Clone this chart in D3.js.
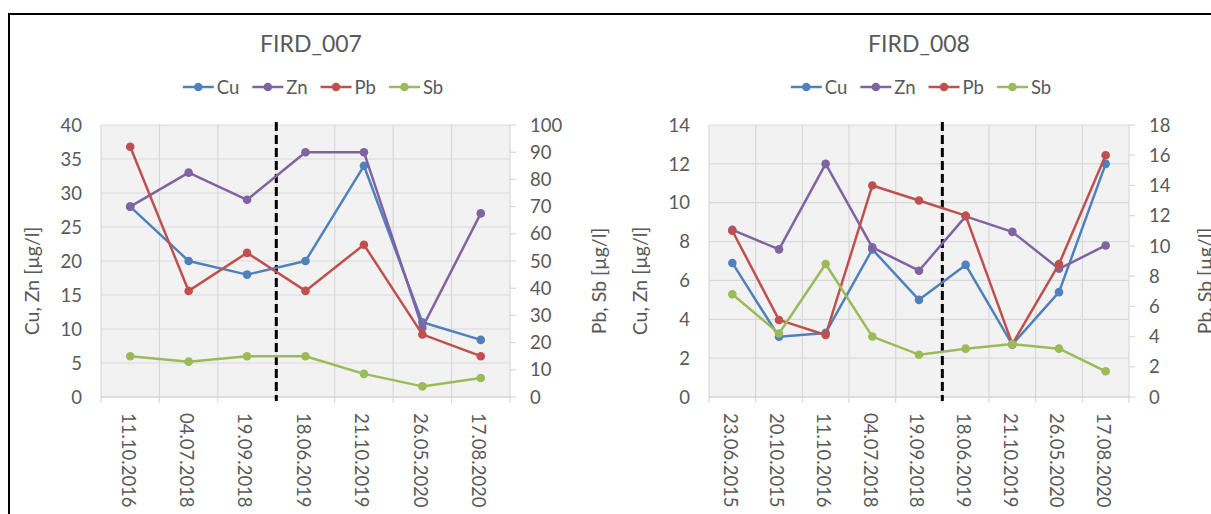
<!DOCTYPE html>
<html>
<head>
<meta charset="utf-8">
<script src="https://cdn.jsdelivr.net/npm/d3@7/dist/d3.min.js"></script>
<style>
  html, body { margin: 0; padding: 0; background: #fff; }
  svg { display: block; }
  text { font-family: Lato, "Open Sans", sans-serif; fill: #595959; }
</style>
</head>
<body>
<svg id="chart" width="1211" height="514"></svg>
<script>
// ---------- DATA ----------
const seriesNames = ["Cu", "Zn", "Pb", "Sb"];
const seriesColors = ["#4F81BD", "#8064A2", "#C0504D", "#9BBB59"];

// FIRD_007
const title1 = "FIRD_007";
const dates1 = ["11.10.2016", "04.07.2018", "19.09.2018", "18.06.2019", "21.10.2019", "26.05.2020", "17.08.2020"];
const cu1 = [28, 20, 18, 20, 34, 11, 8.4];
const zn1 = [28, 33, 29, 36, 36, 10.2, 27];
const pb1 = [92, 39, 53, 39, 56, 23, 15];
const sb1 = [15, 13, 15, 15, 8.5, 3.9, 7];
const leftTicks1 = [0, 5, 10, 15, 20, 25, 30, 35, 40];
const rightTicks1 = [0, 10, 20, 30, 40, 50, 60, 70, 80, 90, 100];
const divider1 = 3; // dashed line before this category index

// FIRD_008
const title2 = "FIRD_008";
const dates2 = ["23.06.2015", "20.10.2015", "11.10.2016", "04.07.2018", "19.09.2018", "18.06.2019", "21.10.2019", "26.05.2020", "17.08.2020"];
const cu2 = [6.9, 3.1, 3.3, 7.6, 5.0, 6.8, 2.7, 5.4, 12.0];
const zn2 = [8.6, 7.6, 12.0, 7.7, 6.5, 9.3, 8.5, 6.6, 7.8];
const pb2 = [11.0, 5.1, 4.1, 14.0, 13.0, 12.0, 3.5, 8.8, 16.0];
const sb2 = [6.8, 4.2, 8.8, 4.0, 2.8, 3.2, 3.5, 3.2, 1.7];
const leftTicks2 = [0, 2, 4, 6, 8, 10, 12, 14];
const rightTicks2 = [0, 2, 4, 6, 8, 10, 12, 14, 16, 18];
const divider2 = 5;

const leftAxisTitle = "Cu, Zn [µg/l]";
const rightAxisTitle = "Pb, Sb [µg/l]";

// ---------- DRAW ----------
const svg = d3.select("#chart");

// outer frame
svg.append("rect").attr("x", 9).attr("y", 14).attr("width", 1400).attr("height", 700)
  .attr("fill", "#fff").attr("stroke", "#000").attr("stroke-width", 2);

function drawChart(cfg) {
  const g = svg.append("g");
  const { left, right, top, bottom } = cfg;
  const x = d3.scaleBand().domain(cfg.dates).range([left, right]).padding(0);
  const yL = d3.scaleLinear().domain([0, d3.max(cfg.leftTicks)]).range([bottom, top]);
  const yR = d3.scaleLinear().domain([0, d3.max(cfg.rightTicks)]).range([bottom, top]);
  const bw = x.bandwidth();

  // plot area
  g.append("rect").attr("x", left).attr("y", top).attr("width", right - left).attr("height", bottom - top)
    .attr("fill", "#F2F2F2");

  // horizontal gridlines
  g.selectAll(".hg").data(cfg.leftTicks).join("line")
    .attr("x1", left).attr("x2", right)
    .attr("y1", d => yL(d)).attr("y2", d => yL(d))
    .attr("stroke", "#D9D9D9").attr("stroke-width", 1.2);

  // vertical gridlines at category boundaries
  const bounds = cfg.dates.map(d => x(d)).concat([right]);
  g.selectAll(".vg").data(bounds).join("line")
    .attr("x1", d => d).attr("x2", d => d)
    .attr("y1", top).attr("y2", bottom + 6)
    .attr("stroke", "#D9D9D9").attr("stroke-width", 1.2);

  // right axis ticks (outside)
  g.selectAll(".rt").data(cfg.rightTicks).join("line")
    .attr("x1", right).attr("x2", right + 6)
    .attr("y1", d => yR(d)).attr("y2", d => yR(d))
    .attr("stroke", "#D9D9D9").attr("stroke-width", 1.2);

  // x axis line
  g.append("line").attr("x1", left).attr("x2", right).attr("y1", bottom).attr("y2", bottom)
    .attr("stroke", "#D0D0D0").attr("stroke-width", 1.2);

  // left tick labels
  g.selectAll(".lt").data(cfg.leftTicks).join("text")
    .attr("x", left - 19).attr("y", d => yL(d)).attr("dy", "0.36em")
    .attr("text-anchor", "end").attr("font-size", 18.5).text(d => d);

  // right tick labels
  g.selectAll(".rtl").data(cfg.rightTicks).join("text")
    .attr("x", right + 20).attr("y", d => yR(d)).attr("dy", "0.36em")
    .attr("text-anchor", "start").attr("font-size", 18.5).text(d => d);

  // x labels, rotated
  g.selectAll(".xl").data(cfg.dates).join("text")
    .attr("transform", d => `translate(${x(d) + bw / 2 - 2},${bottom + 16}) rotate(90)`)
    .attr("dy", "0.36em").attr("text-anchor", "start").attr("font-size", 18.5).text(d => d);

  // axis titles
  g.append("text").attr("transform", `translate(${cfg.leftTitleX},281) rotate(-90)`)
    .attr("text-anchor", "middle").attr("dy", "0.36em").attr("font-size", 19.5).text(leftAxisTitle);
  g.append("text").attr("transform", `translate(${cfg.rightTitleX},281) rotate(-90)`)
    .attr("text-anchor", "middle").attr("dy", "0.36em").attr("font-size", 19.5).text(rightAxisTitle);

  // dashed divider
  const dx = x(cfg.dates[cfg.divider]);
  g.append("line").attr("x1", dx).attr("x2", dx).attr("y1", top - 3).attr("y2", bottom + 4)
    .attr("stroke", "#000").attr("stroke-width", 3).attr("stroke-dasharray", "9,4");

  // series
  const series = [
    { vals: cfg.cu, y: yL, c: seriesColors[0] },
    { vals: cfg.zn, y: yL, c: seriesColors[1] },
    { vals: cfg.pb, y: yR, c: seriesColors[2] },
    { vals: cfg.sb, y: yR, c: seriesColors[3] }
  ];
  series.forEach(s => {
    const pts = s.vals.map((v, i) => [x(cfg.dates[i]) + bw / 2, s.y(v)]);
    g.append("path").attr("d", d3.line()(pts)).attr("fill", "none")
      .attr("stroke", s.c).attr("stroke-width", 2.5).attr("stroke-linejoin", "round");
    g.selectAll(null).data(pts).join("circle")
      .attr("cx", d => d[0]).attr("cy", d => d[1]).attr("r", 4.3).attr("fill", s.c);
  });

  // title
  g.append("text").attr("x", cfg.titleX).attr("y", 52).attr("text-anchor", "middle")
    .attr("font-size", 23).text(cfg.title);

  // legend
  const lg = g.append("g");
  let cx = 0;
  seriesNames.forEach((n, i) => {
    const e = lg.append("g").attr("transform", `translate(${cx},0)`);
    e.append("line").attr("x1", 0).attr("x2", 31).attr("y1", 0).attr("y2", 0)
      .attr("stroke", seriesColors[i]).attr("stroke-width", 2.5);
    e.append("circle").attr("cx", 15.5).attr("cy", 0).attr("r", 4.3).attr("fill", seriesColors[i]);
    const t = e.append("text").attr("x", 34).attr("dy", "0.36em").attr("font-size", 18.5).text(n);
    cx += 34 + t.node().getComputedTextLength() + 13;
  });
  const lw = cx - 13;
  lg.attr("transform", `translate(${cfg.legendX - lw / 2},87)`);
}

drawChart({
  title: title1, dates: dates1, cu: cu1, zn: zn1, pb: pb1, sb: sb1,
  leftTicks: leftTicks1, rightTicks: rightTicks1, divider: divider1,
  left: 101, right: 510, top: 125, bottom: 397,
  titleX: 311, legendX: 313, leftTitleX: 32, rightTitleX: 599
});
drawChart({
  title: title2, dates: dates2, cu: cu2, zn: zn2, pb: pb2, sb: sb2,
  leftTicks: leftTicks2, rightTicks: rightTicks2, divider: divider2,
  left: 709, right: 1129, top: 125, bottom: 397,
  titleX: 919, legendX: 921, leftTitleX: 640, rightTitleX: 1205
});
</script>
</body>
</html>
